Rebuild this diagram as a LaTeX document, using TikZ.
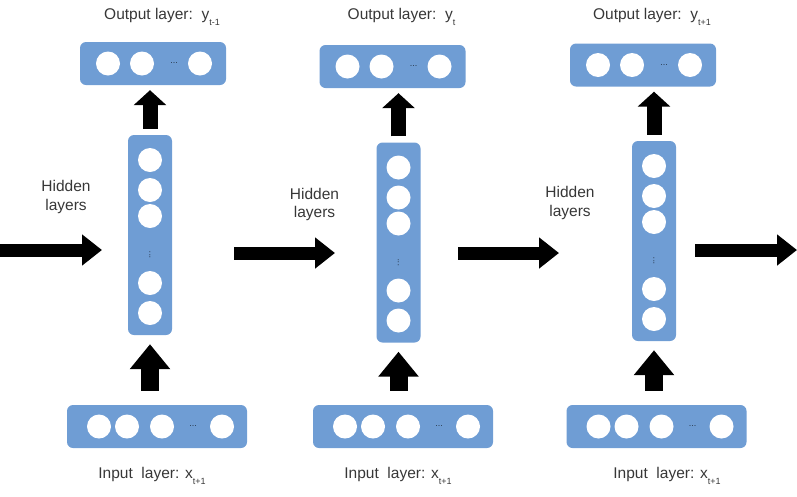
\documentclass[tikz,border=0pt]{standalone}
\usepackage{fontspec}
\setmainfont{Liberation Sans}
\usetikzlibrary{positioning, arrows.meta}
\definecolor{layerblue}{RGB}{111,157,212}
\definecolor{labelgray}{RGB}{55,55,55}
\newcommand{\lowsub}[1]{\raisebox{-6pt}{\fontsize{9}{9}\selectfont #1}}

\begin{document}
\begin{tikzpicture}[x=1pt, y=-1pt,
    layer/.style={fill=layerblue, rounded corners=6pt, inner sep=0pt},
    unit/.style={circle, fill=white, minimum size=24pt, inner sep=0pt},
    dotmark/.style={text=layerblue!35!black, font=\fontsize{9}{9}\selectfont, inner sep=0pt},
    caption/.style={text=labelgray, font=\fontsize{15.5}{18.5}\selectfont, align=center},
    flow/.style={line width=13pt, -{Triangle[width=30pt, length=20pt]}},
    upin/.style={line width=18pt, -{Triangle[width=39pt, length=25pt]}},
    upout/.style={line width=15pt, -{Triangle[width=32pt, length=15pt]}}]
    \useasboundingbox (0,0) rectangle (797,496);

    % Three time steps: output, hidden and input layers
    \foreach \n/\ox/\oy/\hx/\hy/\ix/\ilx/\ysub in {1/153/63.5/150/235/157/152/t-1,
        2/392.5/66.5/398.5/242.5/403/398/t, 3/643/65/654/241/656.5/667/t+1}{
        % Output layer
        \node[layer, minimum width=146pt, minimum height=43pt] (out\n) at (\ox,\oy) {};
        \foreach \dx [count=\k] in {-45,-11,47}
            \node[unit] (out\n-\k) at (\ox+\dx,\oy) {};
        \node[dotmark] (outdots\n) at (\ox+21,\oy) {...};
        \node[caption] (outlabel\n) at (\ox+9,17) {Output layer:\ \ y\lowsub{\ysub}};

        % Hidden layers
        \node[layer, minimum width=44pt, minimum height=200pt] (hid\n) at (\hx,\hy) {};
        \foreach \dy [count=\k] in {-75,-45,-19,48,78}
            \node[unit] (hid\n-\k) at (\hx,\hy+\dy) {};
        \node[dotmark, rotate=90] (hiddots\n) at (\hx,\hy+20) {...};
        \node[caption] (hidlabel\n) at (\hx-84,\hy-38) {Hidden\\layers};

        % Input layer
        \node[layer, minimum width=180pt, minimum height=43pt] (in\n) at (\ix,426.5) {};
        \foreach \dx [count=\k] in {-58,-30,5,65}
            \node[unit] (in\n-\k) at (\ix+\dx,426.5) {};
        \node[dotmark] (indots\n) at (\ix+36,426.5) {...};
        \node[caption] (inlabel\n) at (\ilx,476) {Input\ \ layer: x\lowsub{t+1}};

        % Upward arrows
        \draw[upin, shorten <=14pt, shorten >=9pt] (hid\n.south |- in\n.north) -- (hid\n.south);
        \draw[upout, shorten <=6pt, shorten >=5pt] (hid\n.north) -- (hid\n.north |- out\n.south);
    }

    % Recurrent arrows between time steps
    \foreach \s/\e/\y [count=\k] in {0/102/250, 234/335/253, 458/559/253, 695/797/250}{
        \coordinate (flow\k-a) at (\s,\y);
        \coordinate (flow\k-b) at (\e,\y);
        \draw[flow] (flow\k-a) -- (flow\k-b);
    }
\end{tikzpicture}
\end{document}
